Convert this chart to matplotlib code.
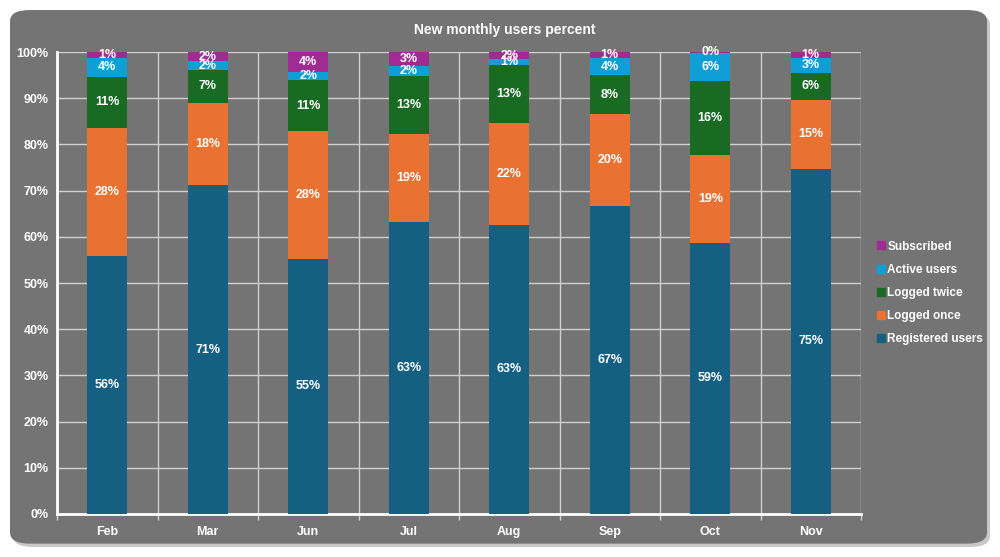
import numpy as np
import matplotlib.pyplot as plt
from matplotlib import font_manager
from matplotlib.patches import FancyBboxPatch
from matplotlib.lines import Line2D

names = {f.name for f in font_manager.fontManager.ttflist}
main_font = "Liberation Sans Narrow" if "Liberation Sans Narrow" in names else "Liberation Sans"
plt.rcParams['font.family'] = [main_font, 'DejaVu Sans']

months = ["Feb", "Mar", "Jun", "Jul", "Aug", "Sep", "Oct", "Nov"]
registered = [55.8, 71.2, 55.2, 63.2, 62.6, 66.7, 58.7, 74.7]
logged_once = [27.7, 17.8, 27.7, 19.1, 22.0, 19.9, 19.0, 14.9]
logged_twice = [11.2, 7.1, 11.0, 12.6, 12.6, 8.4, 16.0, 5.9]
active = [3.9, 1.9, 1.8, 2.0, 1.2, 3.7, 6.1, 3.2]
subscribed = [1.4, 2.0, 4.3, 3.1, 1.6, 1.3, 0.2, 1.3]

series = [
    ("Registered users", registered, "#156082"),
    ("Logged once", logged_once, "#E97132"),
    ("Logged twice", logged_twice, "#196B24"),
    ("Active users", active, "#0F9ED5"),
    ("Subscribed", subscribed, "#A02B93"),
]

bg = "#747474"
fig = plt.figure(figsize=(10, 5.57), dpi=100)
fig.patch.set_facecolor("white")

# rounded panel with a soft shadow
shadow = FancyBboxPatch((0.013, 0.018), 0.977, 0.958, boxstyle="round,pad=0,rounding_size=0.02",
                        transform=fig.transFigure, facecolor="#c8c8c8", edgecolor="none", zorder=0)
panel = FancyBboxPatch((0.010, 0.024), 0.977, 0.958, boxstyle="round,pad=0,rounding_size=0.02",
                       transform=fig.transFigure, facecolor=bg, edgecolor="none", zorder=1)
fig.patches.extend([shadow, panel])

ax = fig.add_axes([0.057, 0.0772, 0.804, 0.8294])
ax.set_zorder(5)
ax.patch.set_alpha(0)

x = np.arange(len(months))
bottom = np.zeros(len(months))
for name, vals, col in series:
    vals = np.array(vals)
    ax.bar(x, vals, 0.4, bottom=bottom, color=col, label=name, zorder=3)
    for xi, b, v in zip(x, bottom, vals):
        ax.text(xi, b + v / 2, f"{v:.0f}%", ha="center", va="center",
                color="white", fontsize=9, fontweight="bold", zorder=4)
    bottom += vals

ax.set_xlim(-0.5, len(months) - 0.5)
ax.set_ylim(0, 100)
ax.set_yticks(np.arange(0, 101, 10))
ax.set_yticklabels([f"{v}%" for v in range(0, 101, 10)])
ax.set_xticks(x)
ax.set_xticklabels(months)
ax.set_xticks(np.arange(-0.5, len(months)), minor=True)

ax.grid(axis="y", color="#d0d0d0", linewidth=1, zorder=1)
ax.grid(axis="x", which="minor", color="#d0d0d0", linewidth=1, zorder=1)
ax.tick_params(axis="x", which="major", length=0, colors="white", labelsize=9, pad=9)
ax.tick_params(axis="x", which="minor", length=4, color="#d0d0d0", width=1)
ax.tick_params(axis="y", length=0, colors="white", labelsize=9, pad=6)
for lab in ax.get_xticklabels() + ax.get_yticklabels():
    lab.set_fontweight("bold")

for s in ["top", "right"]:
    ax.spines[s].set_visible(False)
ax.spines["left"].set_color("white")
ax.spines["bottom"].set_color("white")
ax.spines["left"].set_linewidth(2)
ax.spines["bottom"].set_linewidth(2)

fig.text(0.505, 0.947, "New monthly users percent", ha="center", va="center",
         color="white", fontsize=10, fontweight="bold", zorder=6)

handles, labels = ax.get_legend_handles_labels()
handles = [Line2D([], [], marker="s", linestyle="none", markersize=6, color=h.patches[0].get_facecolor())
           for h in handles]
leg = fig.legend(handles[::-1], labels[::-1], loc="center left", bbox_to_anchor=(0.866, 0.474),
                 frameon=False, labelcolor="white", handletextpad=0.1, handlelength=0.8,
                 labelspacing=0.95, prop={"size": 8.5, "weight": "bold"})
leg.set_zorder(6)

fig.savefig("out.png", dpi=100, facecolor=fig.get_facecolor())
